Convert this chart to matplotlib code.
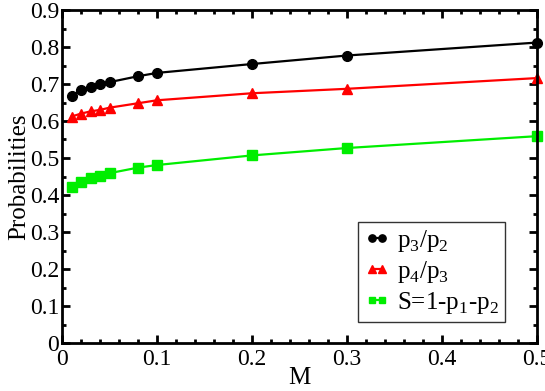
import numpy as np
import matplotlib
matplotlib.use("Agg")
import matplotlib.pyplot as plt
from matplotlib.ticker import MultipleLocator

plt.rcParams['font.family'] = ['Liberation Serif', 'DejaVu Serif']
plt.rcParams['mathtext.fontset'] = 'custom'
plt.rcParams['mathtext.rm'] = 'Liberation Serif'

# data
M = [0.01, 0.02, 0.03, 0.04, 0.05, 0.08, 0.1, 0.2, 0.3, 0.5]
p3_p2 = [0.667, 0.684, 0.692, 0.699, 0.705, 0.721, 0.730, 0.754, 0.777, 0.812]
p4_p3 = [0.612, 0.620, 0.626, 0.630, 0.636, 0.648, 0.656, 0.675, 0.687, 0.716]
S = [0.421, 0.436, 0.446, 0.452, 0.459, 0.474, 0.481, 0.507, 0.527, 0.559]

x_ticks = [0, 0.1, 0.2, 0.3, 0.4, 0.5]
x_labels = ['0', '0.1', '0.2', '0.3', '0.4', '0.5']
y_ticks = [0, 0.1, 0.2, 0.3, 0.4, 0.5, 0.6, 0.7, 0.8, 0.9]
y_labels = ['0', '0.1', '0.2', '0.3', '0.4', '0.5', '0.6', '0.7', '0.8', '0.9']

fig = plt.figure(figsize=(5.45, 3.91), dpi=100)
ax = fig.add_axes([62/545, 1-343/391, (537-62)/545, (343-10)/391])

ax.plot(M, p3_p2, '-o', color='black', ms=7, lw=1.6, label=r'p$_3$/p$_2$', clip_on=False)
ax.plot(M, p4_p3, '-^', color='red', ms=7, lw=1.6, label=r'p$_4$/p$_3$', clip_on=False)
ax.plot(M, S, '-s', color='#00ee00', ms=6.5, lw=1.6, label=r'S=1-p$_1$-p$_2$', clip_on=False)

ax.set_xlim(0, 0.5)
ax.set_ylim(0, 0.9)
ax.set_xticks(x_ticks)
ax.set_xticklabels(x_labels)
ax.set_yticks(y_ticks)
ax.set_yticklabels(y_labels)
ax.xaxis.set_minor_locator(MultipleLocator(0.02))
ax.yaxis.set_minor_locator(MultipleLocator(0.05))
ax.tick_params(which='both', direction='in', top=True, right=True, width=2, labelsize=17)
ax.tick_params(which='major', length=6)
ax.tick_params(which='minor', length=3)
ax.tick_params(axis='x', pad=4)
ax.tick_params(axis='y', pad=2)
for sp in ax.spines.values():
    sp.set_linewidth(2)

ax.set_xlabel('M', fontsize=18, labelpad=-2)
ax.set_ylabel('Probabilities', fontsize=18, labelpad=0)

leg = ax.legend(loc='lower right', bbox_to_anchor=(0.933, 0.063), numpoints=2,
                fontsize=18, frameon=True, fancybox=False, handlelength=1.0,
                handletextpad=0.3, borderpad=0.25, labelspacing=0.2, borderaxespad=0,
                markerscale=0.75)
leg.get_frame().set_edgecolor('black')
leg.get_frame().set_linewidth(1)

fig.savefig('out.png', dpi=100)
